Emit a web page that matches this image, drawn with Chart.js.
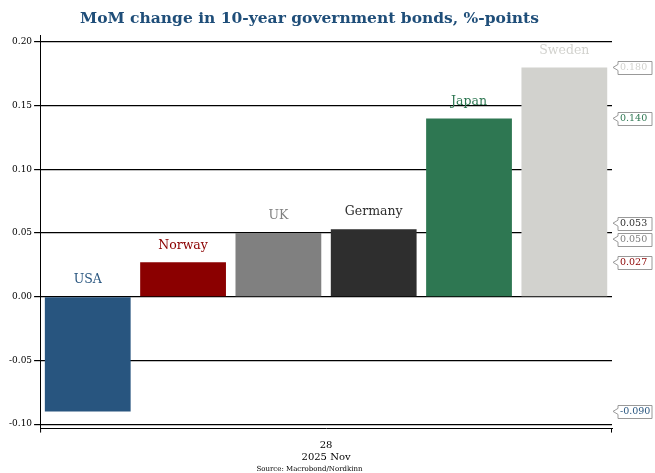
<!DOCTYPE html>
<html>
<head>
<meta charset="utf-8">
<script src="https://cdn.jsdelivr.net/npm/chart.js@4/dist/chart.umd.min.js"></script>
<style>
  html, body { margin: 0; padding: 0; background: #fff; }
</style>
</head>
<body>
<canvas id="chart" width="655" height="473"></canvas>
<script>
var countries = ["USA", "Norway", "UK", "Germany", "Japan", "Sweden"];
var changes = [-0.090, 0.027, 0.050, 0.053, 0.140, 0.180];
var barColors = ["#28557f", "#8b0000", "#808080", "#2e2e2e", "#2e7752", "#d2d2ce"];
var yTicks = [-0.10, -0.05, 0.00, 0.05, 0.10, 0.15, 0.20];
var dateLabels = ["28", "2025 Nov"];

var serif = "'DejaVu Serif', serif";

// country names above each bar (above zero for negatives)
var barNamesPlugin = {
    id: 'barNames',
    afterDatasetsDraw: function (chart) {
        var ctx = chart.ctx;
        var meta = chart.getDatasetMeta(0);
        var y = chart.scales.y;
        ctx.save();
        ctx.font = "12.5px " + serif;
        ctx.textAlign = 'center';
        ctx.textBaseline = 'middle';
        meta.data.forEach(function (bar, i) {
            var top = Math.min(y.getPixelForValue(changes[i]), y.getPixelForValue(0));
            ctx.fillStyle = barColors[i];
            ctx.fillText(countries[i], bar.x, top - 17);
        });
        ctx.restore();
    }
};

// value tags on the right side
var valueTagsPlugin = {
    id: 'valueTags',
    afterDraw: function (chart) {
        var ctx = chart.ctx;
        var y = chart.scales.y;
        var area = chart.chartArea;
        var items = changes.map(function (v, i) {
            return { v: v, i: i, py: y.getPixelForValue(v) };
        });
        items.sort(function (a, b) { return a.py - b.py; });
        // push apart overlapping tags
        var gap = 16;
        for (var k = 1; k < items.length; k++) {
            if (items[k].py - items[k - 1].py < gap) {
                var mid = (items[k].py + items[k - 1].py) / 2;
                items[k - 1].py = mid - gap / 2;
                items[k].py = mid + gap / 2;
            }
        }
        ctx.save();
        ctx.font = "9.5px " + serif;
        ctx.textBaseline = 'middle';
        items.forEach(function (it) {
            var x0 = area.right + 6;
            var h = 13;
            var w = 34;
            var top = it.py - h / 2;
            ctx.fillStyle = '#fff';
            ctx.strokeStyle = '#999';
            ctx.lineWidth = 1;
            ctx.beginPath();
            ctx.moveTo(x0, Math.round(top) + 0.5);
            ctx.lineTo(x0 + w, Math.round(top) + 0.5);
            ctx.lineTo(x0 + w, Math.round(top + h) + 0.5);
            ctx.lineTo(x0, Math.round(top + h) + 0.5);
            ctx.lineTo(x0, it.py + 3);
            ctx.lineTo(x0 - 5, it.py);
            ctx.lineTo(x0, it.py - 3);
            ctx.closePath();
            ctx.fill();
            ctx.stroke();
            ctx.fillStyle = barColors[it.i];
            ctx.textAlign = 'left';
            ctx.fillText(it.v.toFixed(3), x0 + 2, it.py + 0.5);
        });
        // end ticks on the x axis
        ctx.strokeStyle = '#000';
        ctx.beginPath();
        ctx.moveTo(area.left + 0.5, area.bottom);
        ctx.lineTo(area.left + 0.5, area.bottom + 4);
        ctx.moveTo(area.right - 0.5, area.bottom);
        ctx.lineTo(area.right - 0.5, area.bottom + 4);
        ctx.stroke();
        ctx.restore();
    }
};

new Chart(document.getElementById('chart'), {
    type: 'bar',
    data: {
        labels: countries,
        datasets: [{
            data: changes,
            backgroundColor: barColors,
            borderWidth: 0,
            barPercentage: 0.9,
            categoryPercentage: 1.0
        }]
    },
    plugins: [barNamesPlugin, valueTagsPlugin],
    options: {
        responsive: false,
        animation: false,
        layout: { padding: { left: 7, right: 43, top: 0, bottom: 0 } },
        plugins: {
            legend: { display: false },
            tooltip: { enabled: false },
            title: {
                display: true,
                text: 'MoM change in 10-year government bonds, %-points',
                color: '#1f4e79',
                font: { family: serif, size: 15.5, weight: 'bold' },
                padding: { top: 10, bottom: 7 }
            },
            subtitle: {
                display: true,
                position: 'bottom',
                text: 'Source: Macrobond/Nordkinn',
                color: '#000',
                font: { family: serif, size: 7 },
                padding: { top: 1, bottom: 0 }
            }
        },
        scales: {
            x: {
                grid: { display: false },
                border: { display: true, color: '#000', width: 1 },
                ticks: { display: false },
                title: {
                    display: true,
                    text: dateLabels,
                    color: '#000',
                    font: { family: serif, size: 10 },
                    padding: { top: 3, bottom: 0 }
                }
            },
            y: {
                min: -0.1035,
                max: 0.205,
                afterBuildTicks: function (axis) {
                    axis.ticks = yTicks.map(function (v) { return { value: v }; });
                },
                grid: {
                    color: '#000',
                    lineWidth: 1.2,
                    tickLength: 6
                },
                border: { display: true, color: '#000', width: 1 },
                ticks: {
                    color: '#000',
                    padding: 2,
                    font: { family: serif, size: 9 },
                    callback: function (v) { return Number(v).toFixed(2); }
                }
            }
        }
    }
});
</script>
</body>
</html>
